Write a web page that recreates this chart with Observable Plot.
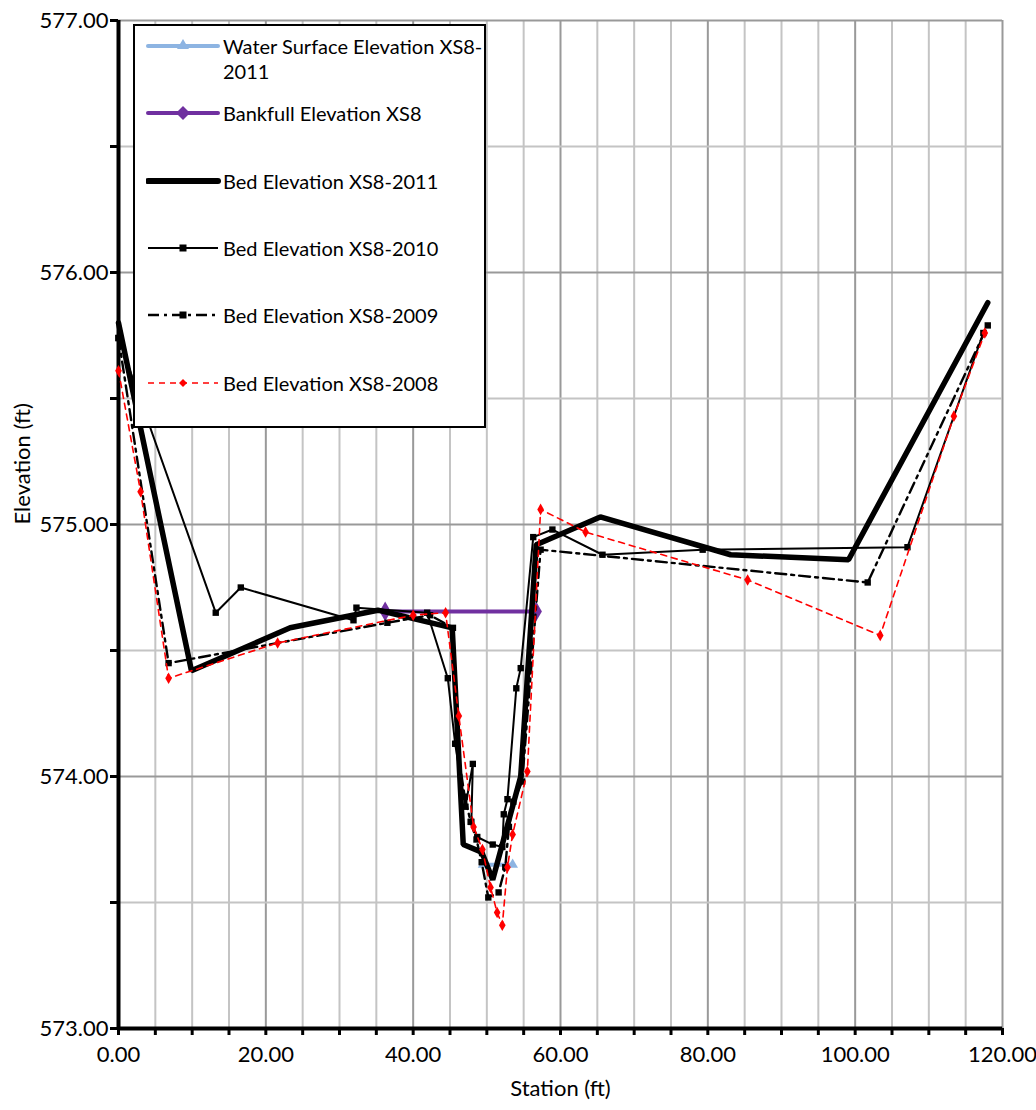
<!DOCTYPE html>
<html>
<head>
<meta charset="utf-8">
<script src="https://cdn.jsdelivr.net/npm/d3@7"></script>
<script src="https://cdn.jsdelivr.net/npm/@observablehq/plot@0.6"></script>
<style>
  html, body { margin: 0; padding: 0; background: #fff; }
  #wrap { position: relative; width: 1036px; height: 1110px; font-family: Lato, "Noto Sans", sans-serif; }
  #legend { position: absolute; left: 133px; top: 24px; width: 349px; height: 400px; border: 2px solid #000; background: #fff; }
  .entry { position: absolute; left: 11px; display: flex; align-items: flex-start; }
  .entry svg { flex: none; }
  .entry span { font-size: 20px; line-height: 25px; margin-left: 1px; color: #000; white-space: nowrap; }
</style>
</head>
<body>
<div id="wrap"><div id="legend"></div></div>
<script>
// ---- data ----
const wseX = [49.5, 53.5];
const wseY = [573.65, 573.65];

const bankX = [36.2, 56.7];
const bankY = [574.655, 574.655];

const bed2011X = [0, 9.9, 23.3, 35.2, 45.3, 46.8, 49.3, 50.8, 54.6, 56.7, 65.4, 83.1, 99.1, 118.0];
const bed2011Y = [575.80, 574.42, 574.59, 574.66, 574.59, 573.73, 573.70, 573.59, 574.00, 574.92, 575.03, 574.88, 574.86, 575.88];

const bed2010X = [0, 13.2, 16.6, 31.9, 32.3, 41.9, 44.7, 45.7, 47.1, 48.1, 47.9, 48.7, 50.8, 52.1, 52.3, 52.8, 54.0, 54.6, 56.3, 58.9, 65.7, 79.3, 107.1, 117.4];
const bed2010Y = [575.74, 574.65, 574.75, 574.62, 574.67, 574.65, 574.39, 574.13, 573.88, 574.05, 573.82, 573.76, 573.73, 573.72, 573.85, 573.91, 574.35, 574.43, 574.95, 574.98, 574.88, 574.90, 574.91, 575.76];

const bed2009X = [0, 6.8, 36.5, 42.3, 45.4, 45.9, 47.0, 47.8, 48.6, 49.3, 50.2, 51.6, 52.5, 53.0, 53.6, 54.8, 57.3, 101.7, 118.0];
const bed2009Y = [575.74, 574.45, 574.61, 574.64, 574.59, 574.13, 573.92, 573.82, 573.75, 573.66, 573.52, 573.54, 573.64, 573.80, 573.90, 573.98, 574.90, 574.77, 575.79];

const bed2008X = [0, 3.0, 6.8, 21.6, 40.0, 44.4, 46.2, 48.2, 49.4, 50.5, 51.4, 52.1, 52.8, 53.5, 55.5, 57.3, 63.4, 85.4, 103.4, 113.4, 117.6];
const bed2008Y = [575.61, 575.13, 574.39, 574.53, 574.64, 574.65, 574.24, 573.80, 573.71, 573.56, 573.46, 573.41, 573.64, 573.77, 574.02, 575.06, 574.97, 574.78, 574.56, 575.43, 575.76];

const xTicks = [0, 20, 40, 60, 80, 100, 120];
const yTicks = [573, 574, 575, 576, 577];

const seriesNames = [
  "Water Surface Elevation XS8-2011",
  "Bankfull Elevation XS8",
  "Bed Elevation XS8-2011",
  "Bed Elevation XS8-2010",
  "Bed Elevation XS8-2009",
  "Bed Elevation XS8-2008"
];

// ---- build tables ----
const toRows = (xs, ys) => xs.map((x, i) => ({x, y: ys[i]}));
const wse = toRows(wseX, wseY);
const bank = toRows(bankX, bankY);
const b2011 = toRows(bed2011X, bed2011Y);
const b2010 = toRows(bed2010X, bed2010Y);
const b2009 = toRows(bed2009X, bed2009Y);
const b2008 = toRows(bed2008X, bed2008Y);

const minorX = d3.range(0, 121, 5);
const minorY = d3.range(573, 577.001, 0.5);
const FONT = 'Lato, "Noto Sans", sans-serif';

const chart = Plot.plot({
  width: 1036,
  height: 1110,
  marginLeft: 118,
  marginRight: 34,
  marginTop: 20,
  marginBottom: 82,
  style: {fontFamily: FONT, fontSize: "22px", background: "#fff", overflow: "visible"},
  x: {domain: [0, 120], axis: null},
  y: {domain: [573, 577], axis: null},
  marks: [
    Plot.ruleX(minorX.filter(d => d % 20 !== 0), {stroke: "#c4c4c4", strokeWidth: 2}),
    Plot.ruleX(xTicks, {stroke: "#999", strokeWidth: 2}),
    Plot.ruleY(minorY.filter(d => d % 1 !== 0), {stroke: "#c4c4c4", strokeWidth: 2}),
    Plot.ruleY(yTicks, {stroke: "#999", strokeWidth: 2}),

    Plot.axisX({ticks: minorX, tickSize: 7, strokeWidth: 3, tickFormat: () => "", label: null}),
    Plot.axisX({ticks: xTicks, tickSize: 0, tickPadding: 18, tickFormat: d => d.toFixed(2), fontSize: 22, label: null}),
    Plot.axisY({ticks: minorY, tickSize: 8, strokeWidth: 3, tickFormat: () => "", label: null}),
    Plot.axisY({ticks: yTicks, tickSize: 0, tickPadding: 10, tickFormat: d => d.toFixed(2), fontSize: 22, label: null}),

    Plot.ruleX([0], {stroke: "#000", strokeWidth: 4}),
    Plot.ruleY([573], {stroke: "#000", strokeWidth: 4}),

    Plot.text(["Station (ft)"], {frameAnchor: "bottom", dy: 67, fontSize: 22}),
    Plot.text(["Elevation (ft)"], {frameAnchor: "left", dx: -96, rotate: -90, fontSize: 22}),

    // Water surface
    Plot.line(wse, {x: "x", y: "y", stroke: "#8db4e2", strokeWidth: 4}),
    Plot.dot(wse, {x: "x", y: "y", symbol: "triangle", r: 4, fill: "#8db4e2"}),
    // Bankfull
    Plot.line(bank, {x: "x", y: "y", stroke: "#7030a0", strokeWidth: 4}),
    Plot.dot(bank, {x: "x", y: "y", symbol: "diamond", r: 6, fill: "#7030a0"}),
    // 2011
    Plot.line(b2011, {x: "x", y: "y", stroke: "#000", strokeWidth: 5.5, strokeLinejoin: "miter"}),
    // 2010
    Plot.line(b2010, {x: "x", y: "y", stroke: "#000", strokeWidth: 2}),
    Plot.dot(b2010, {x: "x", y: "y", symbol: "square", r: 3.6, fill: "#000"}),
    // 2009
    Plot.line(b2009, {x: "x", y: "y", stroke: "#000", strokeWidth: 2.4, strokeDasharray: "11,5,3,5"}),
    Plot.dot(b2009, {x: "x", y: "y", symbol: "square", r: 3.6, fill: "#000"}),
    // 2008
    Plot.line(b2008, {x: "x", y: "y", stroke: "#ff0000", strokeWidth: 1.6, strokeDasharray: "6,5"}),
    Plot.dot(b2008, {x: "x", y: "y", symbol: "diamond", r: 3.5, fill: "#ff0000"})
  ]
});
document.getElementById("wrap").prepend(chart);

// ---- legend ----
const legendStyles = [
  {stroke: "#8db4e2", width: 4, dash: null, marker: "triangle", color: "#8db4e2", top: 8},
  {stroke: "#7030a0", width: 4, dash: null, marker: "diamond", color: "#7030a0", top: 75},
  {stroke: "#000", width: 6, dash: null, marker: null, color: "#000", top: 143},
  {stroke: "#000", width: 2, dash: null, marker: "square", color: "#000", top: 210},
  {stroke: "#000", width: 2.4, dash: "11,5,3,5", marker: "square", color: "#000", top: 277},
  {stroke: "#f00", width: 1.6, dash: "6,5", marker: "diamond-small", color: "#f00", top: 345}
];
const legend = document.getElementById("legend");
const ns = "http://www.w3.org/2000/svg";
seriesNames.forEach((name, i) => {
  const s = legendStyles[i];
  const div = document.createElement("div");
  div.className = "entry";
  div.style.top = s.top + "px";
  const svg = document.createElementNS(ns, "svg");
  svg.setAttribute("width", 76); svg.setAttribute("height", 24);
  const ln = document.createElementNS(ns, "line");
  ln.setAttribute("x1", 2); ln.setAttribute("x2", 72); ln.setAttribute("y1", 12); ln.setAttribute("y2", 12);
  ln.setAttribute("stroke", s.stroke); ln.setAttribute("stroke-width", s.width);
  ln.setAttribute("stroke-linecap", s.width > 3 ? "round" : "butt");
  if (s.dash) ln.setAttribute("stroke-dasharray", s.dash);
  svg.appendChild(ln);
  if (s.marker) {
    let m;
    if (s.marker === "square") {
      m = document.createElementNS(ns, "rect");
      m.setAttribute("x", 33.5); m.setAttribute("y", 8.5); m.setAttribute("width", 7); m.setAttribute("height", 7);
    } else {
      m = document.createElementNS(ns, "path");
      const d = s.marker === "triangle" ? "M37,5 L43,15 L31,15 Z"
        : s.marker === "diamond" ? "M37,5 L44,12 L37,19 L30,12 Z" : "M37,8 L41,12 L37,16 L33,12 Z";
      m.setAttribute("d", d);
    }
    m.setAttribute("fill", s.color);
    svg.appendChild(m);
  }
  div.appendChild(svg);
  const span = document.createElement("span");
  if (i === 0) {
    span.appendChild(document.createTextNode("Water Surface Elevation XS8-"));
    span.appendChild(document.createElement("br"));
    span.appendChild(document.createTextNode("2011"));
  } else {
    span.textContent = name;
  }
  div.appendChild(span);
  legend.appendChild(div);
});
</script>
</body>
</html>
